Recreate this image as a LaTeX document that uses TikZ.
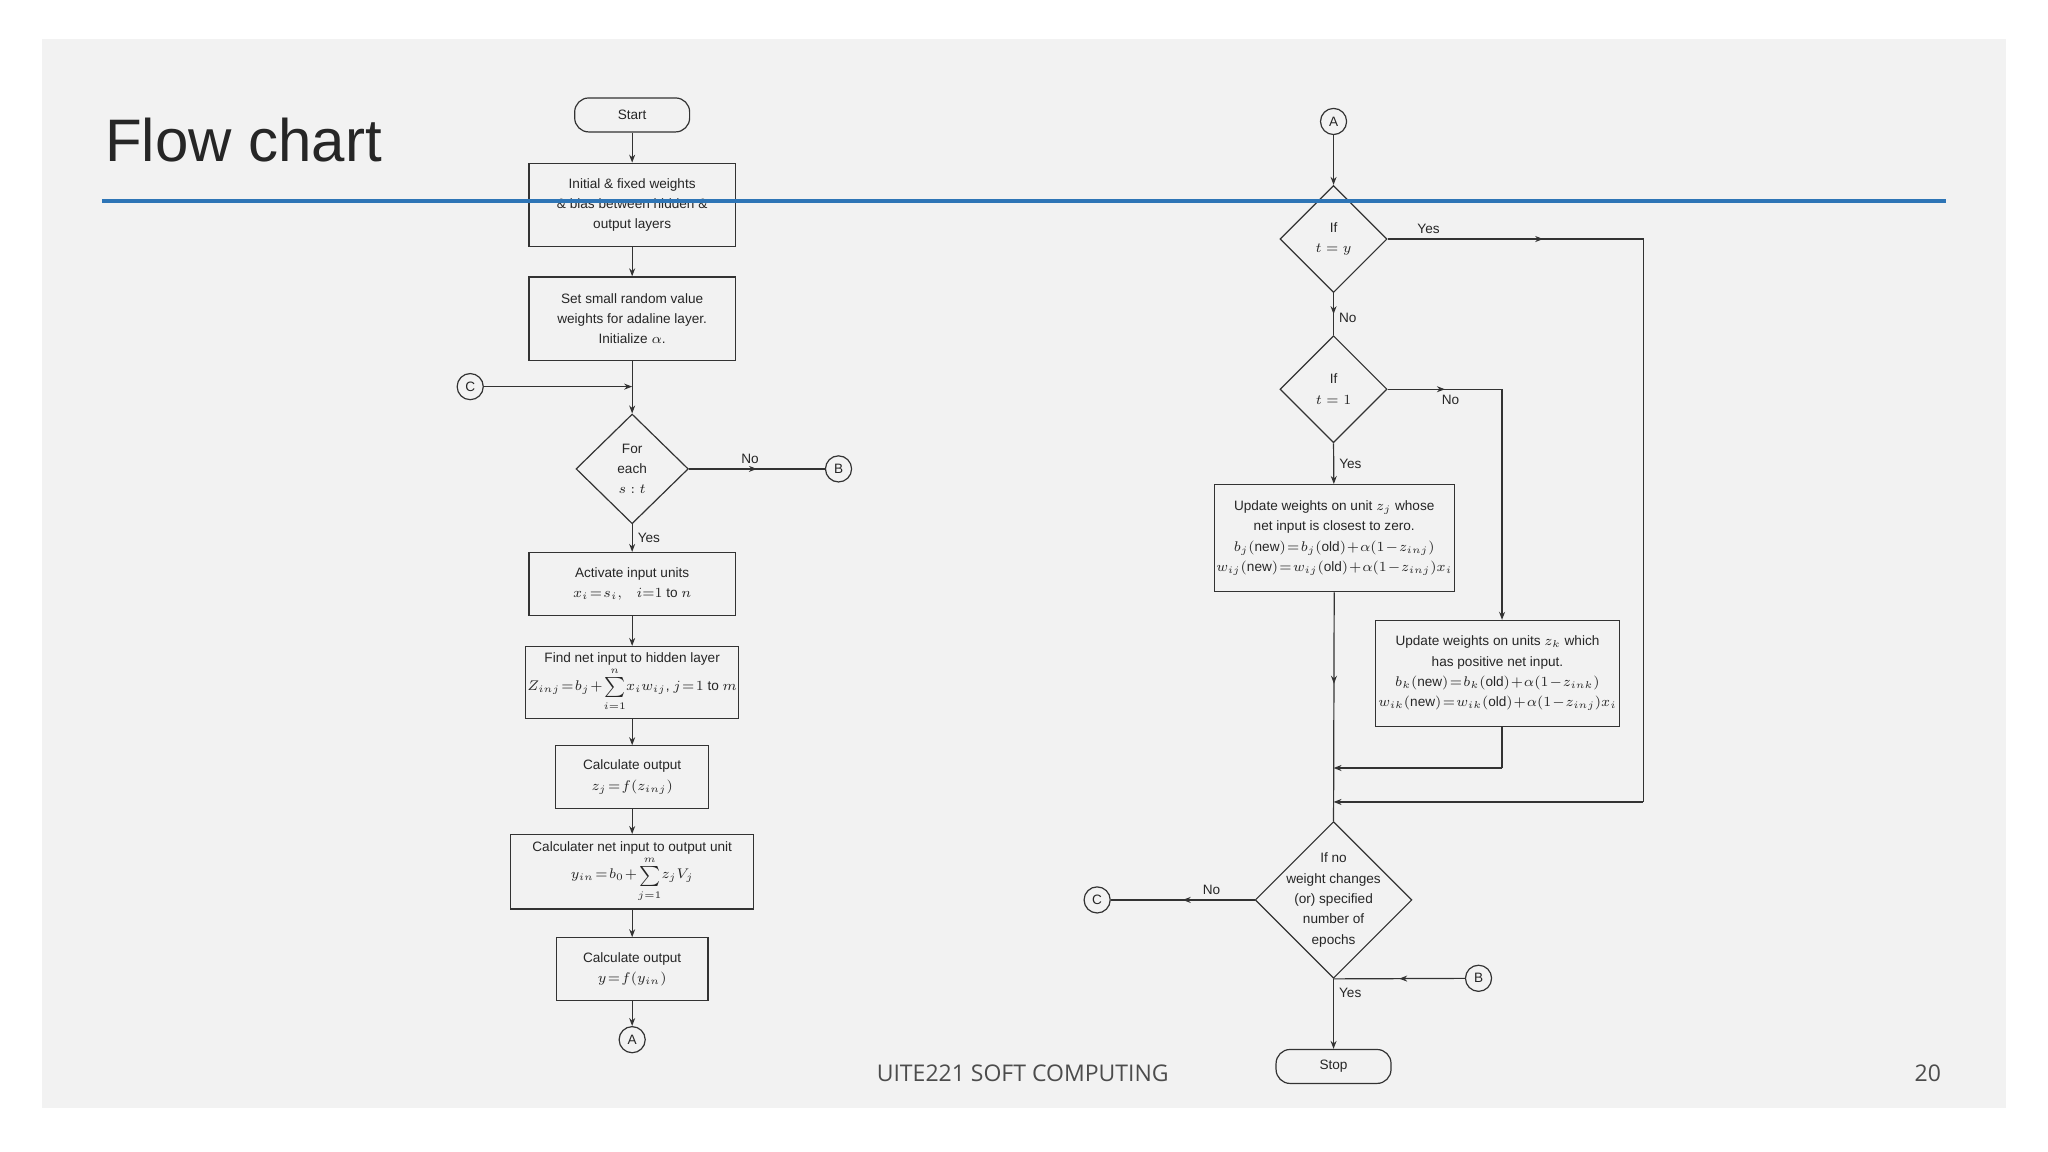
\documentclass[tikz,border=0pt]{standalone}
\usepackage{fontspec}
\setmainfont{Liberation Sans}
\newfontfamily\footfont{Open Sans}
\usetikzlibrary{shapes.geometric,arrows.meta,decorations.markings}
\def\PX{0.6531pt}
\begin{document}
\begin{tikzpicture}[x=0.6531pt,y=-0.6531pt,
  line width=0.6pt, draw=black!80,
  every node/.style={font=\fontsize{6.8}{10.2}\selectfont, text=black!85},
  box/.style={draw=black!80, align=center, inner sep=1pt, execute at begin node={\medmuskip=1mu\thickmuskip=1.5mu\thinmuskip=1mu}},
  term/.style={draw=black!80, rounded corners=7pt, minimum width={88*\PX}, minimum height={26*\PX}},
  dia/.style={draw=black!80, diamond, inner sep=0pt},
  dtxt/.style={align=center, inner sep=0pt},
  conn/.style={draw=black!80, circle, minimum size={20*\PX}, inner sep=0pt},
  lbl/.style={font=\fontsize{6.8}{8}\selectfont, inner sep=2.5pt},
  arr/.style={-{Stealth[length=4pt,width=3pt]}},
  mid/.style={postaction=decorate, decoration={markings, mark=at position #1 with {\arrow{Stealth[length=4pt,width=3pt]}}}}
]
\useasboundingbox (0,0) rectangle (1568,882);
\fill[white] (0,0) rectangle (1568,882);
\fill[black!5] (32,30) rectangle (1536,848);
\node[anchor=base west, font=\fontsize{30}{32}\selectfont, text=black!85, inner sep=0] at (80,124) {Flow chart};
\node[font=\footfont\fontsize{11.5}{13}\selectfont, text=black!70] at (783,822) {UITE221 SOFT COMPUTING};
\node[font=\footfont\fontsize{11.5}{13}\selectfont, text=black!70] at (1476,822) {20};

% left column
\node[term] (start) at (484,88) {Start};
\node[box, minimum width={158*\PX}, minimum height={64*\PX}] (b1) at (484,157) {Initial \& fixed weights\\\& bias between hidden \&\\output layers};
\node[box, minimum width={158*\PX}, minimum height={64*\PX}] (b2) at (484,244) {Set small random value\\weights for adaline layer.\\Initialize $\alpha$.};
\node[conn] (cL) at (360,296) {C};
\coordinate (jL) at (484,296);
\node[dia, minimum width={86*\PX}, minimum height={84*\PX}] (d0) at (484,359) {};
\node[dtxt] at (d0) {For\\each\\$s:t$};
\node[conn] (bL) at (642,359) {B};
\node[box, minimum width={158*\PX}, minimum height={48*\PX}] (b3) at (484,447) {Activate input units\\$x_i=s_i,\quad i{=}1$ to $n$};
\node[box, minimum width={158*\PX}, minimum height={55*\PX}] (b4) at (484,522.5) {Find net input to hidden layer\\$Z_{inj}=b_j+{\scriptstyle\sum\limits_{i=1}^{n}}x_iw_{ij}$, $j=1$ to $m$};
\node[box, minimum width={117*\PX}, minimum height={48*\PX}] (b5) at (484,595) {Calculate output\\$z_j=f(z_{inj})$};
\node[box, minimum width={186*\PX}, minimum height={57*\PX}] (b6) at (484,667.5) {Calculater net input to output unit\\$y_{in}=b_0+{\scriptstyle\sum\limits_{j=1}^{m}}z_jV_j$};
\node[box, minimum width={116*\PX}, minimum height={48*\PX}] (b7) at (484,742) {Calculate output\\$y=f(y_{in})$};
\node[conn] (aL) at (484,796) {A};

\draw[arr] (start) -- (b1);
\draw[arr] (b1) -- (b2);
\draw (b2) -- (jL);
\draw[arr] (cL) -- (jL);
\draw[arr] (jL) -- (d0.north);
\draw[mid=0.5] (d0.east) -- node[lbl, above, pos=0.45] {No} (bL);
\draw[arr] (d0.south) -- node[lbl, right, pos=0.5] {Yes} (b3);
\draw[arr] (b3) -- (b4);
\draw[arr] (b4) -- (b5);
\draw[arr] (b5) -- (b6);
\draw[arr] (b6) -- (b7);
\draw[arr] (b7) -- (aL);

% right column
\node[conn] (aR) at (1021,93) {A};
\node[dia, minimum width={82*\PX}, minimum height={82*\PX}] (d1) at (1021,183) {};
\node[dtxt] at (d1) {If\\$t=y$};
\node[dia, minimum width={82*\PX}, minimum height={82*\PX}] (d2) at (1021,298) {};
\node[dtxt] at (d2) {If\\$t=1$};
\node[box, minimum width={167*\PX}, minimum height={82*\PX}] (r1) at (1021.5,412) {Update weights on unit $z_j$ whose\\net input is closest to zero.\\$b_j(\mathrm{new})=b_j(\mathrm{old})+\alpha(1-z_{inj})$\\$w_{ij}(\mathrm{new})=w_{ij}(\mathrm{old})+\alpha(1-z_{inj})x_i$};
\node[box, minimum width={187*\PX}, minimum height={81*\PX}] (r2) at (1146.5,515.5) {Update weights on units $z_k$ which\\has positive net input.\\$b_k(\mathrm{new})=b_k(\mathrm{old})+\alpha(1-z_{ink})$\\$w_{ik}(\mathrm{new})=w_{ik}(\mathrm{old})+\alpha(1-z_{inj})x_i$};
\node[dia, minimum width={120*\PX}, minimum height={120*\PX}] (d3) at (1021,689) {};
\node[dtxt] at (d3) {If no\\weight changes\\(or) specified\\number of\\epochs};
\node[conn] (cR) at (840,689) {C};
\node[conn] (bR) at (1132,749) {B};
\node[term] (stop) at (1021,816.5) {Stop};
\coordinate (yR) at (1258,183);
\coordinate (yR2) at (1258,614);
\coordinate (yJ) at (1021,614);
\coordinate (nR) at (1150,298);
\coordinate (r2b) at (1150,588);
\coordinate (r2J) at (1021,588);

\draw[arr] (aR) -- (d1.north);
\draw[mid=0.5] (d1.south) -- node[lbl, right, pos=0.6] {No} (d2.north);
\draw[mid=0.19] (d1.east) -- node[lbl, above, pos=0.16] {Yes} (yR) -- (yR2);
\draw[arr] (yR2) -- (yJ);
\draw[mid=0.5] (d2.east) -- node[lbl, below, pos=0.55] {No} (nR);
\draw[arr] (nR) -- (r2.north -| nR);
\draw[arr] (d2.south) -- node[lbl, right, pos=0.5] {Yes} (r1);
\draw[mid=0.4] (r1.south) -- (d3.north);
\draw (r2.south -| r2b) -- (r2b);
\draw[arr] (r2b) -- (r2J);
\draw[mid=0.5] (d3.west) -- node[lbl, above, pos=0.3] {No} (cR);
\draw[mid=0.5] (bR) -- (d3.south);
\draw[arr] (d3.south) -- node[lbl, right, pos=0.2] {Yes} (stop);

\draw[line width=2.2pt, draw={rgb,255:red,46;green,117;blue,182}] (78,154) -- (1490,154);
\end{tikzpicture}
\end{document}
